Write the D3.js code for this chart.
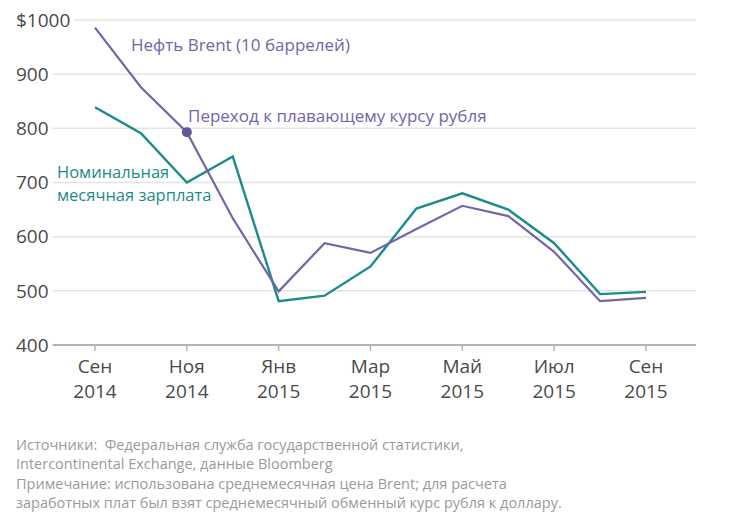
<!DOCTYPE html>
<html>
<head>
<meta charset="utf-8">
<script src="https://cdn.jsdelivr.net/npm/d3@7"></script>
<style>
  html, body { margin: 0; padding: 0; background: #fff; }
  svg { display: block; font-family: "Open Sans", "DejaVu Sans", sans-serif; }
  text { white-space: pre; }
</style>
</head>
<body>
<svg id="chart" width="730" height="522"></svg>
<script>
// ---- data ----
const months = ["2014-09","2014-10","2014-11","2014-12","2015-01","2015-02","2015-03",
                "2015-04","2015-05","2015-06","2015-07","2015-08","2015-09"];
const brent = [986, 876, 793, 634, 499, 588, 570, 614, 657, 638, 572, 481, 487];
const wage  = [839, 791, 700, 748, 481, 491, 545, 652, 680, 650, 588, 494, 498];
const yTicks = [400, 500, 600, 700, 800, 900, 1000];
const xTickMonths = ["Сен","Ноя","Янв","Мар","Май","Июл","Сен"];
const xTickYears  = ["2014","2014","2015","2015","2015","2015","2015"];
const floatIndex = 2; // Nov 2014: ruble float
const labelBrent = "Нефть Brent (10 баррелей)";
const labelFloat = "Переход к плавающему курсу рубля";
const labelWage = ["Номинальная", "месячная зарплата"];
const footer = [
  "Источники:  Федеральная служба государственной статистики,",
  "Intercontinental Exchange, данные Bloomberg",
  "Примечание: использована среднемесячная цена Brent; для расчета",
  "заработных плат был взят среднемесячный обменный курс рубля к доллару."
];

// ---- layout ----
const purple = "#7464aa", purpleDot = "#66579c", teal = "#1a8c8a";
const svg = d3.select("#chart");

// equal month spacing, index-based
const xi = d3.scaleLinear().domain([0, months.length - 1]).range([95, 646]);
const y = d3.scaleLinear().domain([400, 1000]).range([345, 20]);

// y labels + gridlines
const gy = svg.append("g");
yTicks.forEach(v => {
  const t = gy.append("text")
    .attr("x", 16).attr("y", y(v) + 6.8)
    .attr("font-size", 19).attr("fill", "#4a4a4a")
    .text(v === 1000 ? "$1000" : String(v));
  const w = t.node().getComputedTextLength();
  gy.append("line")
    .attr("x1", 16 + w + 4).attr("x2", 696)
    .attr("y1", y(v)).attr("y2", y(v))
    .attr("stroke", v === 400 ? "#b4b4b4" : "#e4e4e4")
    .attr("stroke-width", v === 400 ? 2 : 1.5);
});

// x ticks
const tickIdx = [0, 2, 4, 6, 8, 10, 12];
const gx = svg.append("g");
tickIdx.forEach((ix, k) => {
  gx.append("line").attr("x1", xi(ix)).attr("x2", xi(ix))
    .attr("y1", 345).attr("y2", 351).attr("stroke", "#b4b4b4").attr("stroke-width", 1.5);
  gx.append("text").attr("x", xi(ix)).attr("y", 372.5)
    .attr("text-anchor", "middle").attr("font-size", 19).attr("fill", "#4a4a4a")
    .text(xTickMonths[k]);
  gx.append("text").attr("x", xi(ix)).attr("y", 397.5)
    .attr("text-anchor", "middle").attr("font-size", 19).attr("fill", "#4a4a4a")
    .text(xTickYears[k]);
});

// lines
const line = d3.line().x((d, i) => xi(i)).y(d => y(d));
svg.append("path").datum(wage).attr("d", line)
  .attr("fill", "none").attr("stroke", teal).attr("stroke-width", 2.4)
  .attr("stroke-linejoin", "miter");
svg.append("path").datum(brent).attr("d", line)
  .attr("fill", "none").attr("stroke", purple).attr("stroke-width", 2.2)
  .attr("stroke-linejoin", "miter");

// float dot
svg.append("circle").attr("cx", xi(floatIndex)).attr("cy", y(brent[floatIndex]))
  .attr("r", 5).attr("fill", purpleDot);

// annotations
svg.append("text").attr("x", 131).attr("y", 50.5).attr("font-size", 17)
  .attr("fill", purple).text(labelBrent);
svg.append("text").attr("x", 188).attr("y", 121.5).attr("font-size", 17)
  .attr("fill", purple).text(labelFloat);
const wt = svg.append("text").attr("font-size", 16.5).attr("fill", teal);
labelWage.forEach((s, i) => {
  wt.append("tspan").attr("x", 57).attr("y", 178.4 + i * 22.8).text(s);
});

// footer
footer.forEach((s, i) => {
  svg.append("text").attr("x", 16).attr("y", 449.5 + i * 19.5).attr("font-size", 14.5)
    .attr("fill", "#9a9a9a").text(s);
});
</script>
</body>
</html>
